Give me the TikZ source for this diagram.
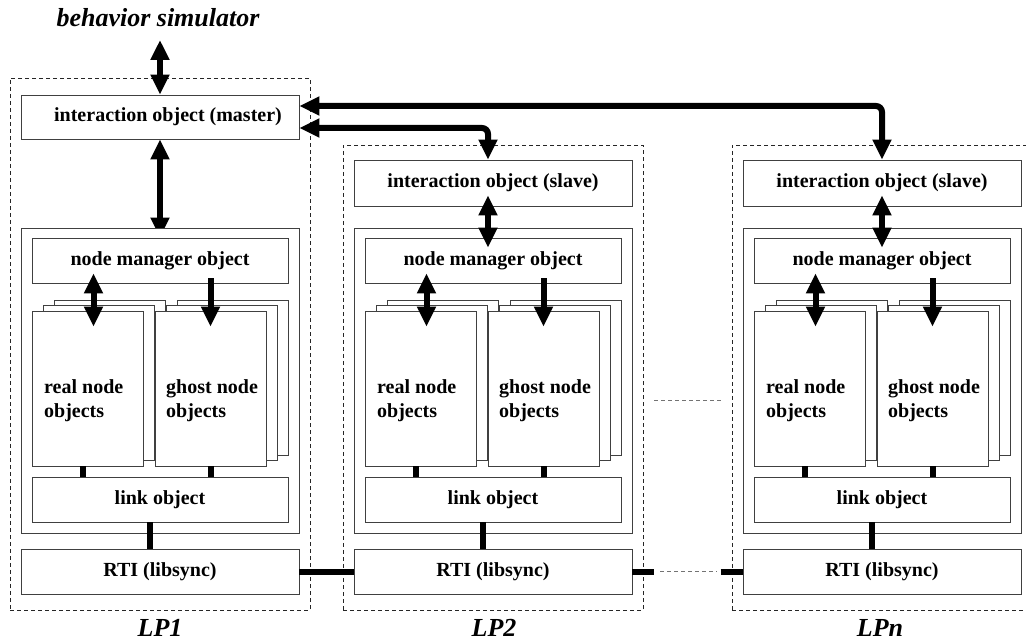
\documentclass[tikz,border=0pt]{standalone}
\usepackage{fontspec}
\setmainfont{Liberation Serif}
\usetikzlibrary{arrows.meta}
\pgfdeclarelayer{bg}
\pgfsetlayers{bg,main}
\tikzset{
  box/.style={draw=black!75, line width=0.8pt, fill=white, inner sep=0pt,
    font=\fontsize{20}{24}\selectfont\bfseries},
  lpbox/.style={draw=black!85, line width=0.8pt, dash pattern=on 4pt off 3pt, inner sep=0pt},
  ptext/.style={inner sep=0pt, align=left, font=\fontsize{20}{24}\selectfont\bfseries},
  fat/.style={line width=6pt},
  tipA/.tip={Triangle[width=18pt,length=20pt]},
  dbl/.style={fat, tipA-tipA},
  sgl/.style={fat, -tipA},
  lbl/.style={font=\fontsize{26}{30}\selectfont\bfseries\itshape, inner sep=0pt},
  dots/.style={draw=black!55, line width=0.8pt, dash pattern=on 4pt off 3pt},
}
\newcommand\mkbox[7][box]{%
  \node[#1, minimum width={(#5-#3)*1pt}, minimum height={(#6-#4)*1pt}]
    (#2) at ({(#3+#5)/2},{(#4+#6)/2}) {#7};}
% #1 = x offset, #2 = suffix, #3 = top of dashed frame
\newcommand\lpblock[3]{%
  \begin{scope}[xshift=#1pt]
    \mkbox[lpbox]{lp#2}{10}{#3}{310}{610}{}
    \mkbox{cont#2}{21}{228}{299}{533}{}
    \mkbox{nm#2}{32}{238}{288}{283}{node manager object}
    \mkbox{rpc#2}{54}{300}{165}{455}{}
    \mkbox{rpb#2}{43}{305.5}{154}{460.5}{}
    \mkbox{rpa#2}{32}{311}{143}{466}{}
    \mkbox{gpc#2}{177}{300}{288}{455}{}
    \mkbox{gpb#2}{166}{305.5}{277}{460.5}{}
    \mkbox{gpa#2}{155}{311}{266}{466}{}
    \node[ptext, anchor=west] (rt#2) at (44,401) {real node\\objects};
    \node[ptext, anchor=west] (gt#2) at (166,401) {ghost node\\objects};
    \mkbox{link#2}{32}{477}{288}{522}{link object}
    \mkbox{rti#2}{21}{549}{299}{594}{RTI (libsync)}
  \end{scope}
  \draw[fat] ([xshift=-4.5pt]rpa#2.south) -- ([xshift=-4.5pt]rpa#2.south |- link#2.north);
  \draw[fat] (gpa#2.south) -- (gpa#2.south |- link#2.north);
  \draw[fat] ([xshift=-10pt]link#2.south) -- ([xshift=-10pt]link#2.south |- rti#2.north);
  \draw[dbl] ([xshift=6pt,yshift=10pt]rpa#2.north |- nm#2.south) -- ([xshift=6pt,yshift=-16pt]rpa#2.north);
  \draw[sgl] ([yshift=5pt]gpa#2.north |- nm#2.south) -- ([yshift=-16pt]gpa#2.north);
}
\begin{document}
\begin{tikzpicture}[x=1pt,y=-1pt]
  \useasboundingbox (0,0) rectangle (1026,644);
  \lpblock{0}{1}{78}
  \lpblock{333}{2}{145}
  \lpblock{722}{n}{145}
  % top boxes
  \mkbox{master}{21}{95}{299}{139}{\hspace*{16pt}interaction object (master)}
  \mkbox{slave2}{354}{160}{632}{206}{interaction object (slave)}
  \mkbox{slaven}{743}{160}{1021}{206}{interaction object (slave)}
  % labels
  \node[lbl] (bs) at (158,18) {behavior simulator};
  \node[lbl] (lab1) at (160,628) {LP1};
  \node[lbl] (lab2) at (494,628) {LP2};
  \node[lbl] (labn) at (880,628) {LPn};
  % vertical arrows
  \draw[dbl] (master.north |- 0,40) -- (master.north);
  \begin{pgfonlayer}{bg}
    \draw[dbl] (master.south) -- (master.south |- nm1.north);
  \end{pgfonlayer}
  \draw[dbl] ([xshift=-5pt,yshift=11pt]slave2.south) -- ([xshift=-5pt,yshift=-10pt]slave2.south |- nm2.north);
  \draw[dbl] ([yshift=11pt]slaven.south) -- ([yshift=-10pt]slaven.south |- nmn.north);
  % master to slaves
  \draw[dbl, rounded corners=6pt] ([yshift=11pt]master.east) -| (slaven.north);
  \draw[dbl, rounded corners=6pt] ([yshift=-11pt]master.east) -| ([xshift=-5pt]slave2.north);
  % RTI chain
  \draw[fat] (rti1.east) -- (rti2.west);
  \coordinate (r2end) at ([xshift=22pt]rti2.east);
  \coordinate (rnstart) at ([xshift=-22pt]rtin.west);
  \draw[fat] (rti2.east) -- (r2end);
  \draw[fat] (rnstart) -- (rtin.west);
  \draw[dots] ([xshift=6pt]r2end) -- ([xshift=-4pt]rnstart);
  % ellipsis between LP2 and LPn
  \coordinate (m1) at (654,400);
  \coordinate (m2) at (722,400);
  \draw[dots] (m1) -- (m2);
\end{tikzpicture}
\end{document}
